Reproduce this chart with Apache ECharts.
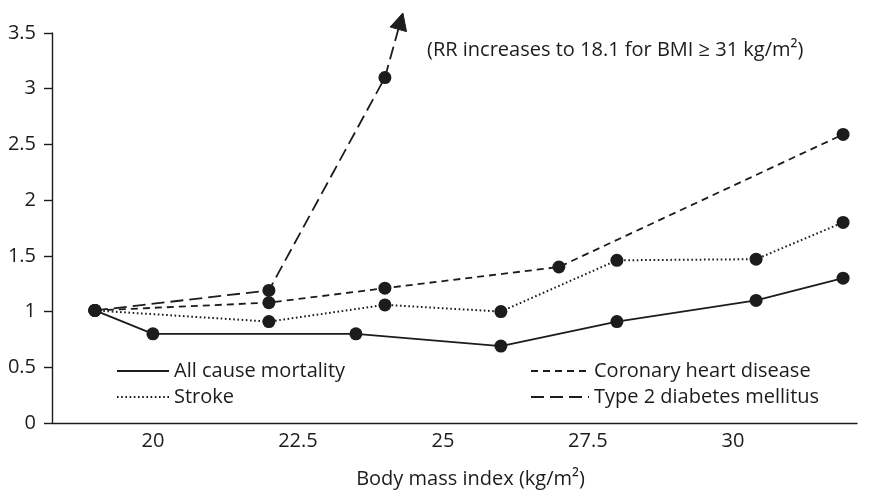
<!DOCTYPE html>
<html>
<head>
<meta charset="utf-8">
<title>Relative risk by body mass index</title>
<script src="https://cdn.jsdelivr.net/npm/echarts@6/dist/echarts.min.js"></script>
<style>
  html, body { margin: 0; padding: 0; background: #fff; }
  #chart { width: 884px; height: 490px; }
</style>
</head>
<body>
<div id="chart"></div>
<script>
// Relative risk (RR) against body mass index, one series per outcome
const allCauseBmi = [19, 20, 23.5, 26, 28, 30.4, 31.9];
const allCauseRR  = [1.01, 0.80, 0.80, 0.69, 0.91, 1.10, 1.30];

const strokeBmi = [19, 22, 24, 26, 28, 30.4, 31.9];
const strokeRR  = [1.01, 0.91, 1.06, 1.00, 1.46, 1.47, 1.80];

const chdBmi = [19, 22, 24, 27, 31.9];
const chdRR  = [1.01, 1.08, 1.21, 1.40, 2.59];

const diabetesBmi = [19, 22, 24];
const diabetesRR  = [1.01, 1.19, 3.10];
// where the arrow points: RR keeps climbing past the top of the axis
const diabetesArrowTip = [24.31, 3.68];

const xTicks = [20, 22.5, 25, 27.5, 30];
const yTicks = [0, 0.5, 1, 1.5, 2, 2.5, 3, 3.5];

const seriesNames = ['All cause mortality', 'Stroke', 'Coronary heart disease', 'Type 2 diabetes mellitus'];
const note = '(RR increases to 18.1 for BMI \u2265 31 kg/m\u00B2)';
const xTitle = 'Body mass index (kg/m\u00B2)';

const ink = '#1c1c1c';
const font = 'Open Sans';
const fs = 20;

const dashDiabetes = [13, 6];
const dashChd = [7, 5];
const dashStroke = [1.6, 2.6];

const pairs = (xs, ys) => xs.map((x, i) => [x, ys[i]]);

function lineSeries(name, xs, ys, dash, width) {
  return {
    name: name,
    type: 'line',
    data: pairs(xs, ys),
    symbol: 'circle',
    symbolSize: 13,
    showSymbol: true,
    clip: false,
    z: 3,
    itemStyle: { color: ink },
    lineStyle: { color: ink, width: width, type: dash },
    emphasis: { disabled: true }
  };
}

// dashed extension of the diabetes line ending in a filled arrowhead
function renderArrow(params, api) {
  const from = api.coord([diabetesBmi[diabetesBmi.length - 1], diabetesRR[diabetesRR.length - 1]]);
  const tip = api.coord(diabetesArrowTip);
  const dx = tip[0] - from[0], dy = tip[1] - from[1];
  const len = Math.sqrt(dx * dx + dy * dy);
  const ux = dx / len, uy = dy / len;
  const headLen = 17, headHalf = 8.5;
  const base = [tip[0] - ux * headLen, tip[1] - uy * headLen];
  const nx = -uy, ny = ux;
  return {
    type: 'group',
    children: [{
      type: 'line',
      shape: { x1: from[0], y1: from[1], x2: base[0], y2: base[1] },
      style: { stroke: ink, lineWidth: 1.8, lineDash: dashDiabetes, fill: null }
    }, {
      type: 'polygon',
      shape: { points: [tip, [base[0] + nx * headHalf, base[1] + ny * headHalf], [base[0] - nx * headHalf, base[1] - ny * headHalf]] },
      style: { fill: ink, stroke: ink, lineWidth: 1 }
    }]
  };
}

const chart = echarts.init(document.getElementById('chart'), null, { renderer: 'canvas' });

const legendBase = {
  orient: 'vertical',
  itemHeight: 14,
  itemGap: 4,
  selectedMode: false,
  textStyle: { fontFamily: font, fontSize: fs, color: ink, lineHeight: 22 },
  itemStyle: { opacity: 0 },
  padding: 0
};

chart.setOption({
  animation: false,
  backgroundColor: '#fff',
  grid: { left: 52, right: 27, top: 33, bottom: 67, containLabel: false, outerBoundsMode: 'none' },
  xAxis: {
    type: 'value',
    min: 18.26,
    max: 32.14,
    name: xTitle,
    nameLocation: 'middle',
    nameGap: 46,
    nameTextStyle: { fontFamily: font, fontSize: fs, color: ink, padding: [0, 0, 0, 32] },
    axisLine: { show: true, onZero: false, lineStyle: { color: ink, width: 1.4 } },
    axisTick: { show: false },
    splitLine: { show: false },
    axisLabel: {
      customValues: xTicks,
      fontFamily: font, fontSize: fs, color: ink, margin: 8,
      formatter: v => String(v)
    }
  },
  yAxis: {
    type: 'value',
    min: 0,
    max: 3.5,
    interval: 0.5,
    axisLine: { show: true, lineStyle: { color: ink, width: 1.4 } },
    axisTick: { show: true, inside: false, length: 8, lineStyle: { color: ink, width: 1.4 } },
    splitLine: { show: false },
    axisLabel: {
      customValues: yTicks,
      fontFamily: font, fontSize: fs, color: ink, margin: 16,
      formatter: v => String(v)
    }
  },
  legend: [
    Object.assign({}, legendBase, { left: 116, top: 360, itemWidth: 52, data: [seriesNames[0], seriesNames[1]] }),
    Object.assign({}, legendBase, { left: 530, top: 360, itemWidth: 58, data: [seriesNames[2], seriesNames[3]] })
  ],
  graphic: [{
    type: 'text',
    left: 427,
    top: 40,
    style: { text: note, fontFamily: font, fontSize: fs, fill: ink }
  }],
  series: [
    lineSeries(seriesNames[0], allCauseBmi, allCauseRR, 'solid', 1.8),
    lineSeries(seriesNames[1], strokeBmi, strokeRR, dashStroke, 2),
    lineSeries(seriesNames[2], chdBmi, chdRR, dashChd, 1.8),
    lineSeries(seriesNames[3], diabetesBmi, diabetesRR, dashDiabetes, 1.8),
    {
      type: 'custom',
      name: 'diabetes-trend',
      data: [diabetesArrowTip],
      clip: false,
      silent: true,
      z: 2,
      renderItem: renderArrow
    }
  ]
});
</script>
</body>
</html>
